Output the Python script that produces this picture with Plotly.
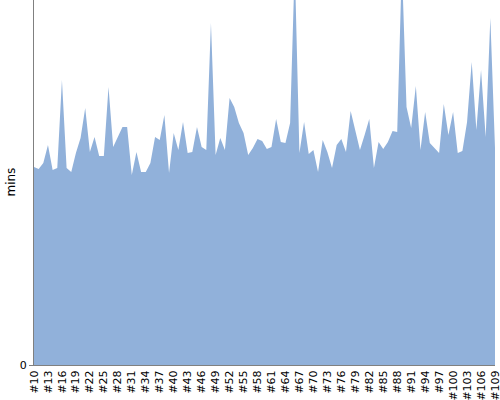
import plotly.graph_objects as go

builds = [f"#{n}" for n in range(10, 110)]

# build durations (mins, arbitrary scale)
durations = [
    19.8, 19.6, 20.2, 22.0, 19.5, 19.7, 28.5, 19.7, 19.3, 21.2,
    22.7, 25.7, 21.3, 22.8, 20.9, 20.9, 27.8, 21.8, 22.8, 23.8,
    23.8, 19.0, 21.3, 19.3, 19.3, 20.2, 22.8, 22.5, 25.0, 19.2,
    23.2, 21.5, 24.3, 21.2, 21.3, 23.8, 21.8, 21.5, 34.2, 21.0,
    22.7, 21.5, 26.7, 25.8, 24.2, 23.2, 21.0, 21.7, 22.6, 22.4,
    21.6, 21.8, 24.6, 22.3, 22.2, 24.2, 40.0, 21.2, 24.3, 21.1,
    21.5, 19.3, 22.5, 21.3, 19.7, 22.0, 22.6, 21.3, 25.4, 23.5,
    21.5, 23.0, 24.6, 19.7, 22.3, 21.6, 22.3, 23.4, 23.3, 40.0,
    25.8, 23.7, 27.9, 21.5, 25.3, 22.2, 21.7, 21.2, 26.1, 23.0,
    25.3, 21.2, 21.4, 24.3, 30.3, 23.5, 29.5, 22.8, 34.7, 21.7,
]

tick_labels = builds[::3]

fig = go.Figure(
    go.Scatter(
        x=builds,
        y=durations,
        mode="lines",
        line=dict(width=0, color="#91b1da"),
        fill="tozeroy",
        fillcolor="#91b1da",
        hoverinfo="x+y",
    )
)

fig.update_layout(
    width=500,
    height=400,
    margin=dict(l=34, r=5, t=0, b=35, autoexpand=False),
    paper_bgcolor="white",
    plot_bgcolor="white",
    showlegend=False,
    font=dict(family="DejaVu Sans", size=11, color="#000000"),
    xaxis=dict(
        type="category",
        range=[0, 99],
        tickmode="array",
        tickvals=tick_labels,
        ticktext=tick_labels,
        tickangle=-90,
        showgrid=False,
        zeroline=False,
        showline=True,
        linecolor="#808080",
        linewidth=1,
        ticks="",
        tickfont=dict(size=11),
        automargin=False,
    ),
    yaxis=dict(
        range=[0, 36.5],
        tickmode="array",
        tickvals=[0],
        ticktext=["0"],
        showgrid=False,
        zeroline=False,
        showline=True,
        linecolor="#808080",
        linewidth=1,
        ticks="outside",
        ticklen=4,
        tickcolor="#808080",
        automargin=False,
    ),
    annotations=[
        dict(
            text="mins",
            xref="paper",
            yref="paper",
            x=-0.052,
            y=0.5,
            xanchor="center",
            yanchor="middle",
            textangle=-90,
            showarrow=False,
            font=dict(size=12),
        )
    ],
)

fig.write_html(
    "out.html",
    config={"displayModeBar": False},
    post_script="document.body.style.margin='0';document.body.style.overflow='hidden';",
)
